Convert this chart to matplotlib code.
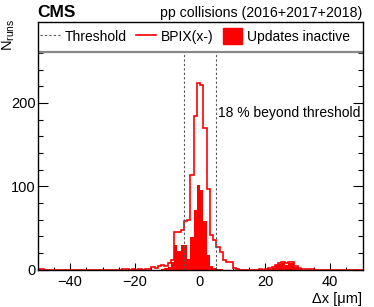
import numpy as np
import matplotlib
matplotlib.use("Agg")
import matplotlib.pyplot as plt
from matplotlib.lines import Line2D
from matplotlib.patches import Patch

plt.rcParams['font.family'] = ['Liberation Sans', 'DejaVu Sans']
plt.rcParams['mathtext.fontset'] = 'custom'
plt.rcParams['mathtext.rm'] = 'Liberation Sans'
plt.rcParams['mathtext.it'] = 'Liberation Sans:italic'

# 1 um bins from -50 to 50, counts listed by lower bin edge
edges = np.arange(-50, 51, 1)

# BPIX(x-) all runs
bpix = [
    1, 1, 0, 0, 0, 0, 0, 0, 0, 0,         # -50 .. -41
    0, 0, 0, 0, 0, 0, 0, 0, 0, 0,         # -40 .. -31
    0, 0, 0, 0, 0, 0, 1, 1, 0, 1,         # -30 .. -21
    0, 1, 0, 1, 1, 3, 2, 4, 5, 4,         # -20 .. -11
    8, 12, 45, 45, 47, 58, 60, 113, 184, 224,  # -10 .. -1
    221, 170, 97, 41, 35, 27, 21, 11, 9, 9,    # 0 .. 9
    2, 1, 0, 0, 0, 0, 0, 0, 1, 0,         # 10 .. 19
    1, 2, 3, 5, 8, 9, 8, 9, 9, 4,         # 20 .. 29
    2, 1, 1, 1, 1, 0, 0, 0, 0, 0,         # 30 .. 39
    0, 0, 0, 0, 0, 0, 0, 0, 0, 0,         # 40 .. 49
]

# runs with alignment updates inactive
inactive = [
    1, 0, 0, 0, 0, 0, 0, 0, 0, 0,
    0, 0, 0, 0, 0, 0, 0, 0, 0, 0,
    0, 0, 0, 0, 0, 0, 0, 0, 0, 0,
    0, 0, 0, 0, 0, 0, 0, 0, 1, 2,
    3, 9, 29, 22, 30, 29, 13, 39, 71, 102,
    95, 58, 17, 4, 2, 1, 1, 0, 0, 0,
    0, 0, 0, 0, 0, 0, 0, 0, 0, 0,
    0, 1, 2, 5, 7, 8, 6, 8, 8, 3,
    1, 0, 0, 0, 0, 0, 0, 0, 0, 0,
    0, 0, 0, 0, 0, 0, 0, 0, 0, 0,
]

threshold = 5.0
frac_beyond = 18
fs = 10

fig = plt.figure(figsize=(3.74, 3.07), dpi=100)
ax = fig.add_axes([37.5 / 374, 1 - 269.5 / 307, 325 / 374, 247.5 / 307])

ax.stairs(inactive, edges, fill=True, color='#ff0000', lw=0, zorder=2)
ax.stairs(bpix, edges, color='#ff0000', lw=1.2, zorder=2.2)
for t in (-threshold, threshold):
    ax.axvline(t, color='#555555', lw=0.8, ls=(0, (2, 2)), zorder=2.4)

ax.text(5.5, 188, f'{frac_beyond} % beyond threshold', fontsize=fs, va='center')

ax.set_xlim(-50, 50)
ax.set_ylim(0, 297)

# white legend area on top of the frame
ax.axhspan(260.5, 297, color='white', zorder=3)
ax.axhline(260.5, color='#888888', lw=1.6, zorder=3.1)

handles = [
    Line2D([], [], color='#555555', lw=0.8, ls=(0, (2, 2))),
    Line2D([], [], color='#ff0000', lw=1.2),
    Patch(facecolor='#ff0000', edgecolor='#ff0000'),
]
leg = ax.legend(handles, ['Threshold', 'BPIX(x-)', 'Updates inactive'],
                ncol=3, loc='upper left', bbox_to_anchor=(0.0, 0.985),
                frameon=False, fontsize=fs, handlelength=1.4,
                handleheight=1.35, handletextpad=0.35, columnspacing=0.7,
                borderpad=0.2, borderaxespad=0.0)
leg.set_zorder(5)

ax.set_xticks([-40, -20, 0, 20, 40])
ax.set_xticks(np.arange(-45, 50, 5), minor=True)
ax.set_yticks([0, 100, 200])
ax.set_yticks(np.arange(0, 261, 20), minor=True)
ax.tick_params(axis='both', which='both', direction='in', labelsize=fs + 0.5, width=0.8)
ax.tick_params(axis='x', which='major', length=5, pad=4)
ax.tick_params(axis='x', which='minor', length=2.5)
ax.tick_params(axis='y', which='major', length=7, pad=1.5, right=True)
ax.tick_params(axis='y', which='minor', length=3.5, right=True)
for s in ax.spines.values():
    s.set_linewidth(1.0)
    s.set_zorder(4)

ax.set_xlabel('Δx [μm]', fontsize=fs + 0.5, loc='right', labelpad=2)
ax.set_ylabel(r'N$_{\mathrm{runs}}$', fontsize=fs + 0.5, loc='top')
ax.yaxis.set_label_coords(-0.063, 1.015)

fig.text(37 / 374, 1 - 17 / 307, 'CMS', fontsize=12.5, fontweight='bold', va='baseline')
fig.text(362 / 374, 1 - 17 / 307, 'pp collisions (2016+2017+2018)', fontsize=10.2,
         ha='right', va='baseline')

fig.savefig('out.png', dpi=100)
